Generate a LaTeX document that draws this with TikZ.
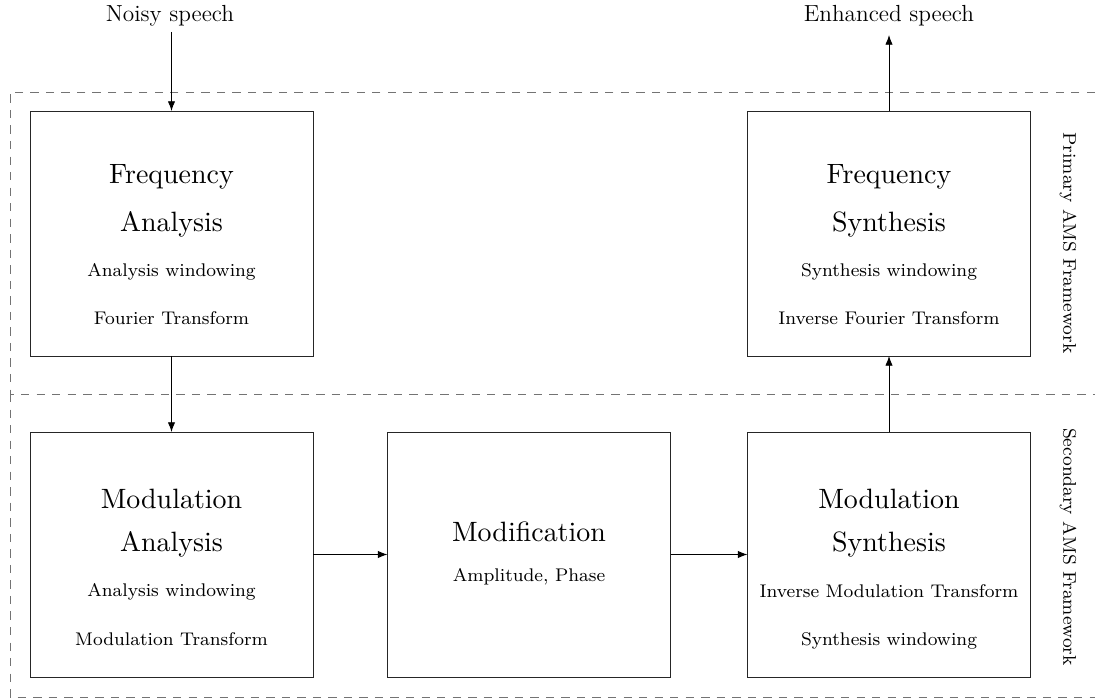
\documentclass[tikz,border=0pt]{standalone}
\usetikzlibrary{arrows.meta}
\newcommand\bigT[1]{\scalebox{1.44}{\normalsize #1}}
\newcommand\smT[1]{\scalebox{1.18}{\footnotesize #1}}
\begin{document}
\begin{tikzpicture}[x=0.515pt,y=-0.515pt,
  blockbox/.style={draw=black!85,line width=0.5pt,inner sep=0pt,outer sep=0pt,
    minimum width=283*0.515pt,minimum height=245*0.515pt},
  bigtxt/.style={anchor=base,inner sep=0pt},
  smalltxt/.style={anchor=base,inner sep=0pt},
  lbl/.style={font=\large,anchor=base,inner sep=0pt},
  sidetxt/.style={rotate=-90,inner sep=0pt},
  frame/.style={draw=black!55,line width=0.5pt,dash pattern=on 4.3pt off 3.7pt},
  flow/.style={draw=black,line width=0.45pt,-{Latex[length=5pt,width=3.8pt]}}]
\useasboundingbox (0,0) rectangle (1095,700);

% dashed frames
\draw[frame] (1095,92) -- (10,92) -- (10,394) -- (1095,394);
\draw[frame] (10,394) -- (10,697) -- (1095,697);

% boxes
\node[blockbox] (fa)  at (171.5,233.5) {};
\node[blockbox] (fs)  at (889,233.5) {};
\node[blockbox] (ma)  at (171.5,554.5) {};
\node[blockbox] (mod) at (529,554.5) {};
\node[blockbox] (ms)  at (889,554.5) {};

% texts
\node[bigtxt] (fa1) at (171.5,184) {\bigT{Frequency}};
\node[bigtxt] (fa2) at (171.5,232) {\bigT{Analysis}};
\node[smalltxt] (fa3) at (171.5,277) {\smT{Analysis windowing}};
\node[smalltxt] (fa4) at (171.5,325) {\smT{Fourier Transform}};

\node[bigtxt] (fs1) at (889,184) {\bigT{Frequency}};
\node[bigtxt] (fs2) at (889,232) {\bigT{Synthesis}};
\node[smalltxt] (fs3) at (889,277) {\smT{Synthesis windowing}};
\node[smalltxt] (fs4) at (889,325) {\smT{Inverse Fourier Transform}};

\node[bigtxt] (ma1) at (171.5,509) {\bigT{Modulation}};
\node[bigtxt] (ma2) at (171.5,552) {\bigT{Analysis}};
\node[smalltxt] (ma3) at (171.5,597) {\smT{Analysis windowing}};
\node[smalltxt] (ma4) at (171.5,645.5) {\smT{Modulation Transform}};

\node[bigtxt] (mod1) at (529,541.5) {\bigT{Modification}};
\node[smalltxt] (mod2) at (529,582) {\smT{Amplitude, Phase}};

\node[bigtxt] (ms1) at (889,509) {\bigT{Modulation}};
\node[bigtxt] (ms2) at (889,552) {\bigT{Synthesis}};
\node[smalltxt] (ms3) at (889,597.5) {\smT{Inverse Modulation Transform}};
\node[smalltxt] (ms4) at (889,645.5) {\smT{Synthesis windowing}};

% outside labels
\node[lbl] (noisy) at (170,21.5) {Noisy speech};
\node[lbl] (enh) at (889,21.5) {Enhanced speech};
\coordinate (in) at (171.5,32);
\coordinate (out) at (889,35);

\node[sidetxt] (prim) at (1068,243) {\smT{Primary AMS Framework}};
\node[sidetxt] (sec) at (1068,547) {\smT{Secondary AMS Framework}};

% connectors
\draw[flow] (in) -- (fa.north);
\draw[flow] (fa.south) -- (ma.north);
\draw[flow] (ma.east) -- (mod.west);
\draw[flow] (mod.east) -- (ms.west);
\draw[flow] (ms.north) -- (fs.south);
\draw[flow] (fs.north) -- (out);
\end{tikzpicture}
\end{document}
